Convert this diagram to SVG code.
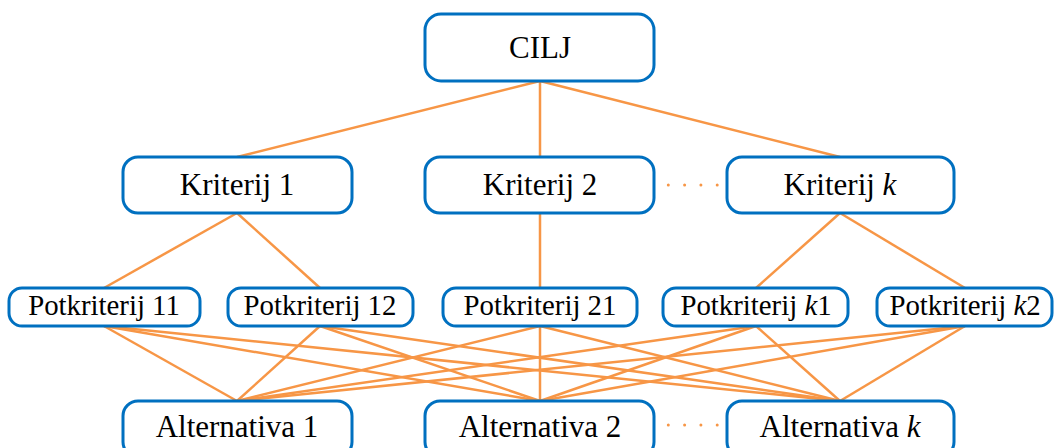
<svg xmlns="http://www.w3.org/2000/svg" width="1058" height="448" viewBox="0 0 1058 448">
<style>
.box{fill:#fff;stroke:#0070C0;stroke-width:3}
.t{font-family:"Liberation Serif","Times New Roman",serif;font-size:31px;fill:#000;text-anchor:middle}
.ts{font-family:"Liberation Serif","Times New Roman",serif;font-size:28.8px;fill:#000;text-anchor:middle}
.e{stroke:#F79646;stroke-width:2.5;fill:none}
.d{stroke:#F79646;stroke-width:3;stroke-linecap:round;stroke-dasharray:0 16.3;fill:none}
</style>
<rect width="1058" height="448" fill="#fff"/>
<g id="connectors">
<line class="e" x1="540" y1="81" x2="237" y2="157"/>
<line class="e" x1="540" y1="81" x2="540" y2="157"/>
<line class="e" x1="540" y1="81" x2="840" y2="157"/>
<line class="e" x1="237" y1="213" x2="104" y2="288"/>
<line class="e" x1="237" y1="213" x2="320" y2="288"/>
<line class="e" x1="540" y1="213" x2="540" y2="288"/>
<line class="e" x1="840" y1="213" x2="756" y2="288"/>
<line class="e" x1="840" y1="213" x2="965" y2="288"/>
<line class="e" x1="104" y1="326" x2="237" y2="401"/>
<line class="e" x1="104" y1="326" x2="540" y2="401"/>
<line class="e" x1="104" y1="326" x2="840" y2="401"/>
<line class="e" x1="320" y1="326" x2="237" y2="401"/>
<line class="e" x1="320" y1="326" x2="540" y2="401"/>
<line class="e" x1="320" y1="326" x2="840" y2="401"/>
<line class="e" x1="540" y1="326" x2="237" y2="401"/>
<line class="e" x1="540" y1="326" x2="540" y2="401"/>
<line class="e" x1="540" y1="326" x2="840" y2="401"/>
<line class="e" x1="756" y1="326" x2="237" y2="401"/>
<line class="e" x1="756" y1="326" x2="540" y2="401"/>
<line class="e" x1="756" y1="326" x2="840" y2="401"/>
<line class="e" x1="965" y1="326" x2="237" y2="401"/>
<line class="e" x1="965" y1="326" x2="540" y2="401"/>
<line class="e" x1="965" y1="326" x2="840" y2="401"/>
<line class="d" x1="652" y1="185" x2="727" y2="185"/>
<line class="d" x1="652" y1="425" x2="727" y2="425"/>
</g>
<g id="cilj"><rect class="box" x="425" y="14" width="229" height="67" rx="16"/><text class="t" x="540" y="58">CILJ</text></g>
<g id="k1"><rect class="box" x="123" y="157" width="229" height="56" rx="15"/><text class="t" x="237" y="195">Kriterij 1</text></g>
<g id="k2"><rect class="box" x="425" y="157" width="229" height="56" rx="15"/><text class="t" x="540" y="195">Kriterij 2</text></g>
<g id="kk"><rect class="box" x="727" y="157" width="227" height="56" rx="15"/><text class="t" x="840" y="195">Kriterij <tspan font-style="italic">k</tspan></text></g>
<g id="p11"><rect class="box" x="9" y="288" width="191" height="38" rx="13"/><text class="ts" x="104" y="315">Potkriterij 11</text></g>
<g id="p12"><rect class="box" x="228" y="288" width="185" height="38" rx="13"/><text class="ts" x="320" y="315">Potkriterij 12</text></g>
<g id="p21"><rect class="box" x="443" y="288" width="194" height="38" rx="13"/><text class="ts" x="540" y="315">Potkriterij 21</text></g>
<g id="pk1"><rect class="box" x="663" y="288" width="185" height="38" rx="13"/><text class="ts" x="756" y="315">Potkriterij <tspan font-style="italic">k</tspan>1</text></g>
<g id="pk2"><rect class="box" x="877" y="288" width="175" height="38" rx="13"/><text class="ts" x="965" y="315">Potkriterij <tspan font-style="italic">k</tspan>2</text></g>
<g id="a1"><rect class="box" x="123" y="401" width="229" height="56" rx="15"/><text class="t" x="237" y="437">Alternativa 1</text></g>
<g id="a2"><rect class="box" x="425" y="401" width="229" height="56" rx="15"/><text class="t" x="540" y="437">Alternativa 2</text></g>
<g id="ak"><rect class="box" x="727" y="401" width="227" height="56" rx="15"/><text class="t" x="840" y="437">Alternativa <tspan font-style="italic">k</tspan></text></g>
</svg>
